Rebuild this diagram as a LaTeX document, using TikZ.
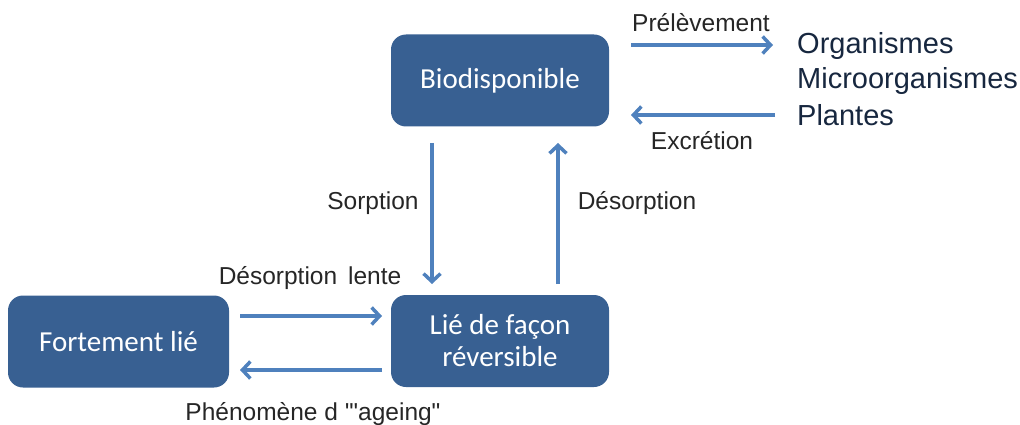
\documentclass[tikz,border=0pt]{standalone}
\usepackage{fontspec}
\setmainfont{Liberation Sans}[Ligatures=TeXOff]
\newfontfamily\boxfont{Carlito}
\usetikzlibrary{arrows.meta}
\definecolor{boxblue}{HTML}{386092}
\definecolor{arrblue}{HTML}{4F81BD}
\definecolor{txtdark}{HTML}{262626}
\definecolor{listblue}{HTML}{17273F}
\tikzset{
  statebox/.style={fill=boxblue, draw=none, rounded corners=15pt, text=white,
    minimum width=218pt, minimum height=92pt, align=center,
    font=\boxfont\fontsize{29}{32}\selectfont},
  flow/.style={draw=arrblue, line width=3.5pt, -{Straight Barb[length=8pt,width=17pt,line width=3.5pt]}},
  lbl/.style={text=txtdark, font=\fontsize{24.5}{28}\selectfont, inner sep=0pt},
  lst/.style={text=listblue, font=\fontsize{29}{33}\selectfont, inner sep=0pt, anchor=west}
}
\begin{document}
\begin{tikzpicture}[x=1pt,y=-1pt]
\useasboundingbox (0,0) rectangle (1020,425);
\node[statebox] (bio) at (500,80.5) {Biodisponible};
\node[statebox] (rev) at (500,341) {Lié de façon\\réversible};
\node[statebox, minimum width=221pt] (fort) at (118.5,341.5) {Fortement lié};

\coordinate (s1) at (432,143); \coordinate (s2) at (432,284);
\coordinate (d1) at (558,284); \coordinate (d2) at (558,143);
\coordinate (l1) at (240,316); \coordinate (l2) at (382,316);
\coordinate (a1) at (382,370); \coordinate (a2) at (240,370);
\coordinate (p1) at (631,45); \coordinate (p2) at (773,45);
\coordinate (e1) at (775,115); \coordinate (e2) at (631,115);

\draw[flow] (s1) -- (s2);
\draw[flow] (d1) -- (d2);
\draw[flow] (l1) -- (l2);
\draw[flow] (a1) -- (a2);
\draw[flow] (p1) -- (p2);
\draw[flow] (e1) -- (e2);

\node[lbl] (lsorp) at (373,203) {Sorption};
\node[lbl] (ldes) at (637,203) {Désorption};
\node[lbl] (llente) at (310,278) {Désorption\, lente};
\node[lbl] (lage) at (313,414) {Phénomène d '"ageing"};
\node[lbl] (lprel) at (701,23) {Prélèvement};
\node[lbl] (lexc) at (702,141) {Excrétion};

\node[lst] (o1) at (797,46) {Organismes};
\node[lst] (o2) at (797,81) {Microorganismes};
\node[lst] (o3) at (797,115) {Plantes};
\end{tikzpicture}
\end{document}
